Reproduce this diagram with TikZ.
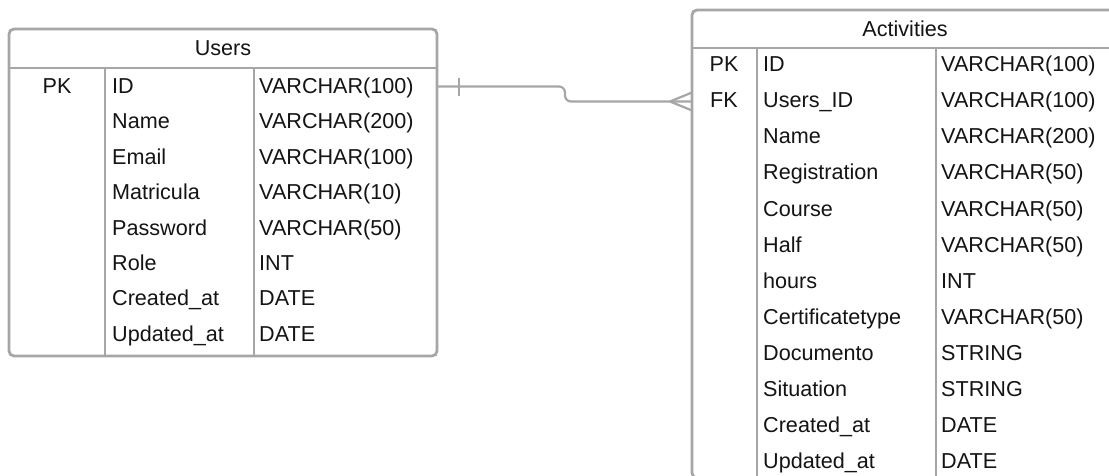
\documentclass[tikz,border=0pt]{standalone}
\usepackage{fontspec}
\setmainfont{Liberation Sans}
\begin{document}
\begin{tikzpicture}[x=1pt,y=-1pt,
  tbl/.style={draw=linegray,line width=2.8pt,rounded corners=5pt,inner sep=0pt,fill=white},
  sep/.style={draw=linegray,line width=2.8pt},
  conn/.style={draw=linegray,line width=2.2pt},
  txt/.style={inner sep=0pt,anchor=base west,font=\fontsize{21.6}{24}\selectfont,text=txtcol},
  key/.style={inner sep=0pt,anchor=base,font=\fontsize{21.6}{24}\selectfont,text=txtcol}]
\definecolor{linegray}{HTML}{A6A6A6}
\definecolor{txtcol}{HTML}{141414}
\useasboundingbox (0,0) rectangle (1109,476);
\clip (0,0) rectangle (1109,476);

% ---- Users table ----
\node[tbl,minimum width=428pt,minimum height=327pt] (users) at (223,192.5) {};
\draw[sep] (9,68) -- (437,68);
\draw[sep] (105,68) -- (105,356);
\draw[sep] (254,68) -- (254,356);
\node[key] (utitle) at (223,56) {Users};
\node[key] (upk) at (57,93.5) {PK};
\foreach \n/\t [count=\i from 0] in {ID/VARCHAR(100),Name/VARCHAR(200),Email/VARCHAR(100),Matricula/VARCHAR(10),Password/VARCHAR(50),Role/INT,Created\_at/DATE,Updated\_at/DATE}{
  \node[txt] (un\i) at (112,93.5+35.4*\i) {\n};
  \node[txt] (ut\i) at (259,93.5+35.4*\i) {\t};
}

% ---- Activities table ----
\node[tbl,minimum width=426pt,minimum height=468pt] (acts) at (905,244) {};
\draw[sep] (692,48) -- (1118,48);
\draw[sep] (757,48) -- (757,478);
\draw[sep] (936,48) -- (936,478);
\node[key] (atitle) at (905,37) {Activities};
\node[key] (apk) at (724,72) {PK};
\node[key] (afk) at (724,107.5) {FK};
\foreach \n/\t [count=\i from 0] in {ID/VARCHAR(100),Users\_ID/VARCHAR(100),Name/VARCHAR(200),Registration/VARCHAR(50),Course/VARCHAR(50),Half/VARCHAR(50),hours/INT,Certificatetype/VARCHAR(50),Documento/STRING,Situation/STRING,Created\_at/DATE,Updated\_at/DATE}{
  \node[txt] (an\i) at (763,72+36*\i) {\n};
  \node[txt] (at\i) at (941,72+36*\i) {\t};
}

% ---- relationship: one Users to many Activities ----
\coordinate (rs) at (437,86.5);
\coordinate (re) at (692,101.5);
\coordinate (crow) at (670,101.5);
\draw[conn,rounded corners=6pt] (rs) -- (565,86.5) -- (565,101.5) -- (re);
\draw[conn] (459,78) -- (459,96);
\draw[conn] (crow) -- ([yshift=-9pt]re);
\draw[conn] (crow) -- ([yshift=9pt]re);
\end{tikzpicture}
\end{document}
